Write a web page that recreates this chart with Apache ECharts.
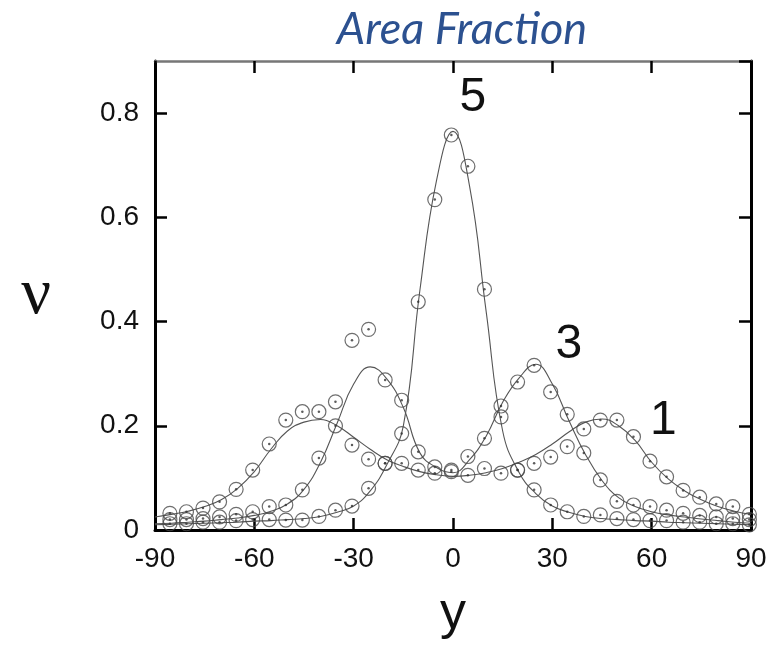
<!DOCTYPE html>
<html>
<head>
<meta charset="utf-8">
<script src="https://cdn.jsdelivr.net/npm/echarts@6/dist/echarts.min.js"></script>
<style>
html,body{margin:0;padding:0;background:#fff;}
#c{width:771px;height:656px;}
</style>
</head>
<body>
<div id="c"></div>
<script>
// ---- data ----
const xTicks = [-90, -60, -30, 0, 30, 60, 90];
const yTickLabels = ['0', '0.2', '0.4', '0.6', '0.8'];

// measured point positions (y, degrees)
const ptsX = [-85.5,-80.5,-75.5,-70.5,-65.5,-60.5,-55.5,-50.5,-45.5,-40.5,-35.5,-30.5,-25.5,-20.5,-15.5,-10.5,-5.5,-0.5,
              4.5,9.5,14.5,19.5,24.5,29.5,34.5,39.5,44.5,49.5,54.5,59.5,64.5,69.5,74.5,79.5,84.5,89.5];

const pts1 = [0.032,0.035,0.042,0.054,0.078,0.115,0.165,0.211,0.227,0.227,0.200,0.163,0.136,0.128,0.128,0.115,0.109,0.112,
              0.105,0.118,0.109,0.115,0.128,0.140,0.160,0.194,0.211,0.211,0.179,0.132,0.102,0.076,0.063,0.050,0.045,0.030];
const pts3 = [0.020,0.020,0.022,0.025,0.030,0.035,0.045,0.048,0.077,0.138,0.246,0.364,0.385,0.288,0.249,0.150,0.121,0.115,
              0.141,0.176,0.238,0.284,0.316,0.265,0.222,0.148,0.096,0.055,0.048,0.045,0.038,0.032,0.028,0.025,0.022,0.020];
const pts5 = [0.012,0.012,0.015,0.015,0.018,0.020,0.020,0.019,0.019,0.026,0.038,0.046,0.080,0.128,0.185,0.438,0.634,0.758,
              0.698,0.462,0.217,0.115,0.077,0.048,0.035,0.026,0.029,0.022,0.020,0.018,0.018,0.015,0.015,0.012,0.012,0.010];

// fitted curves
const fitX = [-90,-85,-80,-75,-70,-65,-60,-55,-50,-45,-40,-35,-30,-25,-20,-15,-10,-5,0,
              5,10,15,20,25,30,35,40,45,50,55,60,65,70,75,80,85,90];
const fit1 = [0.025,0.030,0.036,0.045,0.058,0.080,0.112,0.155,0.190,0.207,0.212,0.200,0.178,0.155,0.135,0.122,0.112,0.106,0.103,
              0.105,0.110,0.118,0.130,0.145,0.165,0.188,0.207,0.213,0.200,0.172,0.130,0.098,0.075,0.058,0.045,0.036,0.030];
const fit3 = [0.012,0.013,0.015,0.017,0.020,0.023,0.028,0.036,0.050,0.078,0.130,0.205,0.280,0.313,0.290,0.235,0.148,0.120,0.110,
              0.135,0.180,0.245,0.292,0.318,0.280,0.210,0.145,0.095,0.062,0.045,0.035,0.029,0.025,0.021,0.018,0.015,0.013];
const fit5 = [0.010,0.011,0.012,0.013,0.014,0.015,0.017,0.018,0.020,0.022,0.026,0.034,0.046,0.075,0.125,0.200,0.460,0.670,0.765,
              0.660,0.420,0.190,0.110,0.070,0.046,0.034,0.026,0.022,0.020,0.018,0.017,0.015,0.014,0.013,0.012,0.011,0.010];

const curveNames = ['5', '3', '1'];
const curveLabelX = [6.0, 35, 63.5];
const curveLabelY = [0.83, 0.355, 0.21];

// ---- chart ----
const pair = (xs, ys) => xs.map((x, i) => [x, ys[i]]);
const chart = echarts.init(document.getElementById('c'), null, {renderer: 'canvas'});

function fitSeries(name, ys) {
  return {
    name: name, type: 'line', data: pair(fitX, ys), smooth: 0.45, symbol: 'none',
    lineStyle: {color: '#555', width: 1.1}, z: 2, silent: true
  };
}
function ptSeries(name, ys) {
  return [{
    name: name, type: 'scatter', data: pair(ptsX, ys), symbol: 'circle', symbolSize: 14,
    itemStyle: {color: 'rgba(255,255,255,0)', borderColor: '#4a4a4a', borderWidth: 1.2}, z: 3
  }, {
    name: name + ' centre', type: 'scatter', data: pair(ptsX, ys), symbol: 'circle', symbolSize: 2.5,
    itemStyle: {color: '#333'}, z: 4
  }];
}

const option = {
  animation: false,
  backgroundColor: '#fff',
  title: {
    text: 'Area Fraction', left: 457, top: 2, textAlign: 'center',
    textStyle: {fontFamily: 'Lato', fontStyle: 'italic', fontWeight: 'normal', fontSize: 45, color: '#2C5190'}
  },
  grid: {left: 155, right: 20, top: 61, bottom: 126, containLabel: false},
  xAxis: [{
    type: 'value', min: -90, max: 90, interval: 30, position: 'bottom',
    name: 'y', nameLocation: 'middle', nameGap: 58,
    nameTextStyle: {fontFamily: 'Liberation Sans', fontSize: 52, color: '#111'},
    axisLine: {onZero: false, lineStyle: {color: '#000', width: 3}},
    axisTick: {inside: true, length: 12, lineStyle: {color: '#000', width: 2.5}},
    axisLabel: {fontFamily: 'Liberation Sans', fontSize: 28, color: '#111', margin: 15,
      formatter: v => xTicks.indexOf(v) >= 0 ? String(v) : ''},
    splitLine: {show: false}
  }, {
    type: 'value', min: -90, max: 90, interval: 30, position: 'top',
    axisLine: {onZero: false, lineStyle: {color: '#777', width: 2.5}},
    axisTick: {inside: true, length: 12, lineStyle: {color: '#000', width: 2.5}},
    axisLabel: {show: false}, splitLine: {show: false}
  }],
  yAxis: [{
    type: 'value', min: 0, max: 0.9, interval: 0.2, position: 'left',
    name: 'ν', nameLocation: 'middle', nameRotate: 0, nameGap: 104,
    nameTextStyle: {fontFamily: 'Liberation Serif', fontSize: 66, color: '#111'},
    axisLine: {onZero: false, lineStyle: {color: '#000', width: 3}},
    axisTick: {inside: true, length: 12, lineStyle: {color: '#000', width: 2.5}},
    axisLabel: {fontFamily: 'Liberation Sans', fontSize: 28, color: '#111', margin: 16, showMaxLabel: false,
      formatter: v => { const i = Math.round(v / 0.2); return Math.abs(v - i * 0.2) < 1e-6 && yTickLabels[i] ? yTickLabels[i] : ''; }},
    splitLine: {show: false}
  }, {
    type: 'value', min: 0, max: 0.9, interval: 0.2, position: 'right',
    axisLine: {onZero: false, lineStyle: {color: '#000', width: 3}},
    axisTick: {inside: true, length: 12, lineStyle: {color: '#000', width: 2.5}},
    axisLabel: {show: false}, splitLine: {show: false}
  }],
  series: [
    fitSeries('fit 1', fit1), fitSeries('fit 3', fit3), fitSeries('fit 5', fit5),
    ...ptSeries('data 1', pts1), ...ptSeries('data 3', pts3), ...ptSeries('data 5', pts5),
    {
      name: 'curve labels', type: 'scatter', symbol: 'circle', symbolSize: 1, silent: true, z: 5,
      itemStyle: {color: '#fff', opacity: 0},
      data: curveNames.map((n, i) => ({value: [curveLabelX[i], curveLabelY[i]], name: n})),
      label: {show: true, position: 'inside', formatter: p => p.name, opacity: 1,
        textBorderWidth: 0, fontFamily: 'Liberation Sans', fontSize: 48, color: '#111'}
    }
  ]
};
chart.setOption(option);
</script>
</body>
</html>
